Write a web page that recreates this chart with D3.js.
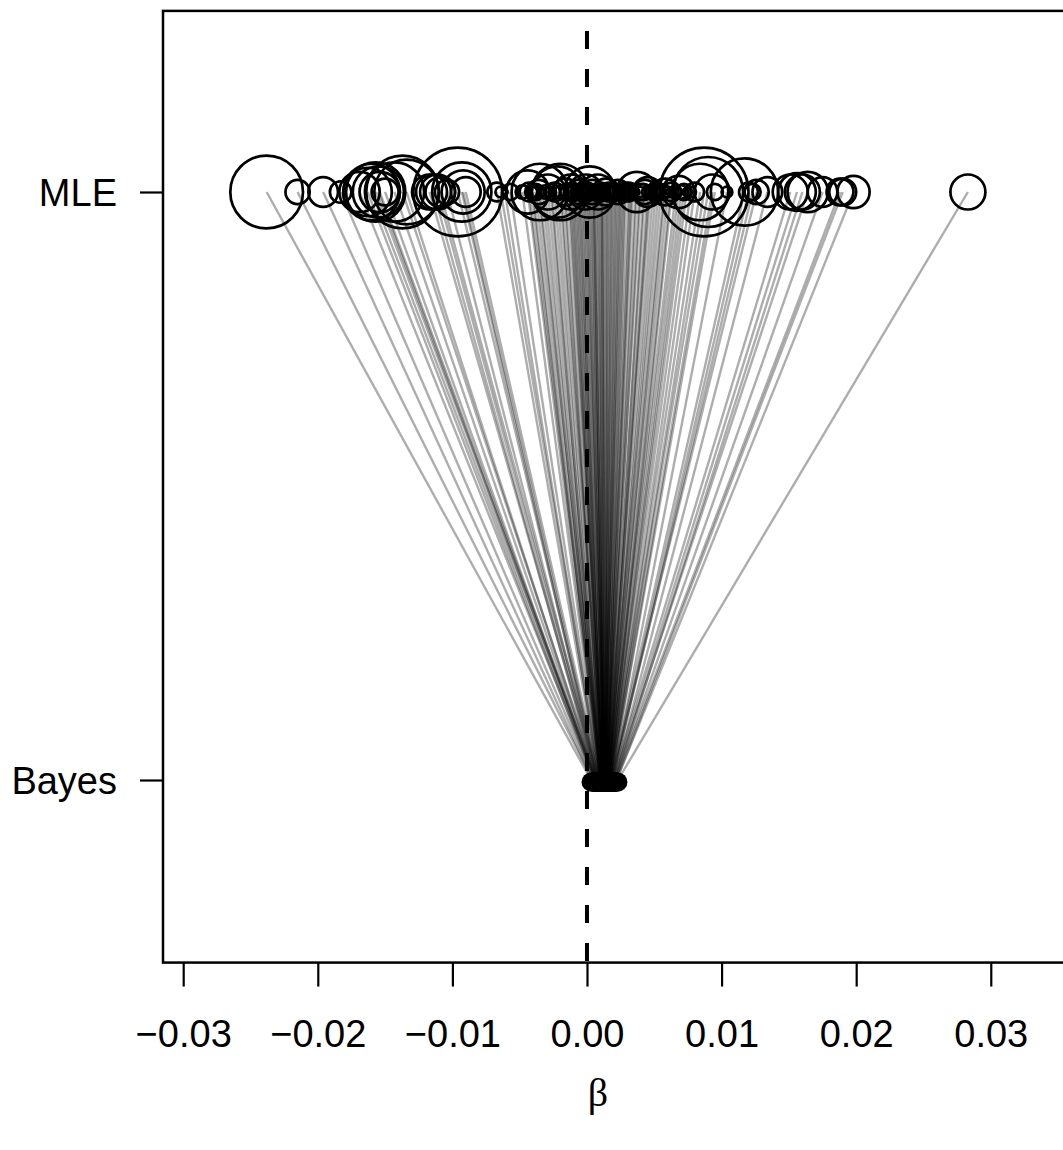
<!DOCTYPE html>
<html>
<head>
<meta charset="utf-8">
<script src="https://cdn.jsdelivr.net/npm/d3@7"></script>
<style>
  body { margin: 0; background: #fff; }
  #chart { width: 1063px; height: 1150px; }
</style>
</head>
<body>
<div id="chart"></div>
<script>
// MLE estimates, their standard errors (circle size) and the shrunken Bayes estimates
const mle = [
  -0.0238, -0.0215, -0.0196, -0.0183, -0.0169, -0.0163, -0.0160, -0.0157, -0.0155, -0.0154,
  -0.0150, -0.0143, -0.0137, -0.0134, -0.0117, -0.0114, -0.0111, -0.0109, -0.0104, -0.0096,
  -0.0093, -0.0092, -0.0090, -0.0067, -0.0064, -0.0061, -0.0057, -0.0044, -0.0043, -0.0040,
  -0.0036, -0.0035, -0.0029, -0.0026, -0.0022, -0.0020, -0.0016, -0.0012, -0.0010, -0.0009,
  -0.0007, -0.0005, -0.0003, -0.0001, 0.0001, 0.0002, 0.0004, 0.0005, 0.0006, 0.0008,
  0.0010, 0.0011, 0.0012, 0.0014, 0.0016, 0.0017, 0.0019, 0.0021, 0.0023, 0.0025,
  0.0026, 0.0028, 0.0031, 0.0032, 0.0034, 0.0037, 0.0040, 0.0043, 0.0045, 0.0047,
  0.0051, 0.0055, 0.0058, 0.0060, 0.0063, 0.0068, 0.0072, 0.0077, 0.0080, 0.0084,
  0.0087, 0.0090, 0.0093, 0.0095, 0.0104, 0.0117, 0.0120, 0.0123, 0.0126, 0.0134,
  0.0151, 0.0156, 0.0160, 0.0164, 0.0175, 0.0188, 0.0190, 0.0198, 0.0283,
  -0.0048, -0.0041, -0.0038, -0.0033, -0.0031, -0.0027, -0.0024, -0.0019, -0.0017, -0.0014,
  -0.0013, -0.0011, -0.0008, -0.0006, -0.0004, -0.0002, 0.0000, 0.0003, 0.0005, 0.0007,
  0.0009, 0.0011, 0.0013, 0.0015, 0.0018, 0.0020, 0.0022, 0.0024, 0.0027, 0.0029,
  0.0033, 0.0036, 0.0039, 0.0042, 0.0046, 0.0049, 0.0053, 0.0057, 0.0062, 0.0066,
  0.0070, 0.0074
]
const mleSe = [
  0.0027, 0.0009, 0.0011, 0.0008, 0.0015, 0.0018, 0.0021, 0.0022, 0.0019, 0.0015,
  0.0010, 0.0022, 0.0027, 0.0024, 0.0013, 0.0013, 0.0013, 0.0011, 0.0009, 0.0033,
  0.0022, 0.0016, 0.0011, 0.0007, 0.0004, 0.0002, 0.0006, 0.0016, 0.0007, 0.0006,
  0.0009, 0.0021, 0.0013, 0.0006, 0.0019, 0.0021, 0.0010, 0.0013, 0.0006, 0.0003,
  0.0009, 0.0004, 0.0007, 0.0013, 0.0004, 0.0019, 0.0009, 0.0003, 0.0006, 0.0013,
  0.0007, 0.0005, 0.0004, 0.0010, 0.0007, 0.0003, 0.0004, 0.0006, 0.0009, 0.0004,
  0.0005, 0.0007, 0.0007, 0.0004, 0.0003, 0.0015, 0.0006, 0.0009, 0.0011, 0.0004,
  0.0007, 0.0006, 0.0010, 0.0004, 0.0007, 0.0012, 0.0006, 0.0004, 0.0007, 0.0021,
  0.0033, 0.0026, 0.0013, 0.0006, 0.0004, 0.0025, 0.0007, 0.0006, 0.0009, 0.0011,
  0.0013, 0.0014, 0.0013, 0.0015, 0.0011, 0.0010, 0.0010, 0.0012, 0.0013,
  0.0005, 0.0004, 0.0006, 0.0003, 0.0005, 0.0004, 0.0007, 0.0005, 0.0003, 0.0006,
  0.0004, 0.0005, 0.0003, 0.0006, 0.0004, 0.0005, 0.0007, 0.0004, 0.0003, 0.0005,
  0.0004, 0.0006, 0.0003, 0.0005, 0.0004, 0.0006, 0.0003, 0.0005, 0.0004, 0.0006,
  0.0005, 0.0003, 0.0004, 0.0006, 0.0005, 0.0003, 0.0004, 0.0005, 0.0003, 0.0004,
  0.0005, 0.0003
]
const bayes = [
  0.0003, 0.0004, 0.0004, 0.0005, 0.0006, 0.0005, 0.0006, 0.0007, 0.0006, 0.0007,
  0.0006, 0.0007, 0.0008, 0.0007, 0.0008, 0.0007, 0.0008, 0.0009, 0.0008, 0.0009,
  0.0008, 0.0009, 0.0010, 0.0009, 0.0010, 0.0009, 0.0010, 0.0010, 0.0011, 0.0010,
  0.0011, 0.0010, 0.0011, 0.0010, 0.0011, 0.0012, 0.0011, 0.0012, 0.0011, 0.0012,
  0.0012, 0.0011, 0.0012, 0.0013, 0.0012, 0.0013, 0.0012, 0.0013, 0.0012, 0.0013,
  0.0012, 0.0013, 0.0013, 0.0014, 0.0013, 0.0014, 0.0013, 0.0014, 0.0014, 0.0013,
  0.0014, 0.0015, 0.0014, 0.0015, 0.0014, 0.0015, 0.0014, 0.0015, 0.0016, 0.0015,
  0.0016, 0.0015, 0.0016, 0.0016, 0.0017, 0.0016, 0.0017, 0.0017, 0.0018, 0.0017,
  0.0018, 0.0017, 0.0018, 0.0018, 0.0019, 0.0018, 0.0019, 0.0019, 0.0018, 0.0020,
  0.0019, 0.0020, 0.0021, 0.0020, 0.0021, 0.0021, 0.0022, 0.0022, 0.0023,
  0.0010, 0.0010, 0.0011, 0.0011, 0.0010, 0.0011, 0.0011, 0.0012, 0.0011, 0.0012,
  0.0012, 0.0012, 0.0012, 0.0013, 0.0012, 0.0013, 0.0013, 0.0013, 0.0013, 0.0013,
  0.0013, 0.0014, 0.0013, 0.0014, 0.0014, 0.0014, 0.0014, 0.0015, 0.0014, 0.0015,
  0.0015, 0.0015, 0.0015, 0.0016, 0.0015, 0.0016, 0.0016, 0.0016, 0.0017, 0.0016,
  0.0017, 0.0017
]
const xTicks = [-0.03, -0.02, -0.01, 0.00, 0.01, 0.02, 0.03]
const xTickLabels = ["\u22120.03", "\u22120.02", "\u22120.01", "0.00", "0.01", "0.02", "0.03"]
const levels = [1, 0]
const levelLabels = ["MLE", "Bayes"]

const width = 1063, height = 1150
const font = "'Liberation Sans', Arial, Helvetica, sans-serif"

const x = d3.scaleLinear().domain([-0.0315, 0.0357]).range([163, 1067.5])
const y = d3.scaleLinear().domain([0, 1]).range([780, 192])
// circle radius in pixels, same units as the x axis
const r = d3.scaleLinear().domain([0, 0.001]).range([0, x(0.001) - x(0)])

const rows = mle.map((m, i) => ({mle: m, se: mleSe[i], bayes: bayes[i]}))

let svg = d3.select("#chart")
  .append("svg")
  .attr("width", width)
  .attr("height", height)
  .style("font-family", font)

const boxTop = y(1.308), boxBottom = y(-0.3105)

// lines from MLE to Bayes
svg.append("g")
  .attr("stroke", "#000")
  .attr("stroke-opacity", 0.32)
  .attr("stroke-width", 2.4)
  .selectAll("line")
  .data(rows)
  .join("line")
    .attr("x1", d => x(d.mle))
    .attr("y1", y(1))
    .attr("x2", d => x(d.bayes))
    .attr("y2", y(0))

// MLE circles, size = standard error
svg.append("g")
  .attr("fill", "none")
  .attr("stroke", "#000")
  .attr("stroke-width", 2.7)
  .selectAll("circle")
  .data(rows)
  .join("circle")
    .attr("cx", d => x(d.mle))
    .attr("cy", y(1))
    .attr("r", d => r(d.se))

// Bayes points
svg.append("g")
  .attr("fill", "#000")
  .selectAll("circle")
  .data(rows)
  .join("circle")
    .attr("cx", d => x(d.bayes))
    .attr("cy", y(0) + 2)
    .attr("r", 9.5)

// zero line
svg.append("line")
  .attr("x1", x(0)).attr("x2", x(0))
  .attr("y1", boxTop).attr("y2", boxBottom)
  .attr("stroke", "#000")
  .attr("stroke-width", 4)
  .attr("stroke-dasharray", "18,20")
  .attr("stroke-dashoffset", 18)

// box
svg.append("rect")
  .attr("x", x.range()[0])
  .attr("y", boxTop)
  .attr("width", x.range()[1] - x.range()[0])
  .attr("height", boxBottom - boxTop)
  .attr("fill", "none")
  .attr("stroke", "#000")
  .attr("stroke-width", 2.5)

const xAxis = svg.append("g")
  .attr("transform", `translate(0,${boxBottom})`)
  .call(d3.axisBottom(x).tickValues(xTicks).tickFormat((d, i) => xTickLabels[i]).tickSize(24).tickPadding(33))
xAxis.select(".domain").remove()
xAxis.selectAll(".tick line").attr("stroke-width", 2.2)
xAxis.selectAll("text").attr("font-size", 38).attr("font-family", font).attr("fill", "#000")

const yAxis = svg.append("g")
  .attr("transform", `translate(${x.range()[0]},0)`)
  .call(d3.axisLeft(y).tickValues(levels).tickFormat((d, i) => levelLabels[i]).tickSize(23).tickPadding(23))
yAxis.select(".domain").remove()
yAxis.selectAll(".tick line").attr("stroke-width", 2.2)
yAxis.selectAll("text").attr("font-size", 38).attr("font-family", font).attr("fill", "#000").attr("dy", "0.36em")

svg.append("text")
  .attr("x", 598)
  .attr("y", 1106)
  .attr("text-anchor", "middle")
  .attr("font-family", "'Liberation Serif', 'DejaVu Serif', serif")
  .attr("font-size", 40)
  .text("\u03b2")
</script>
</body>
</html>
